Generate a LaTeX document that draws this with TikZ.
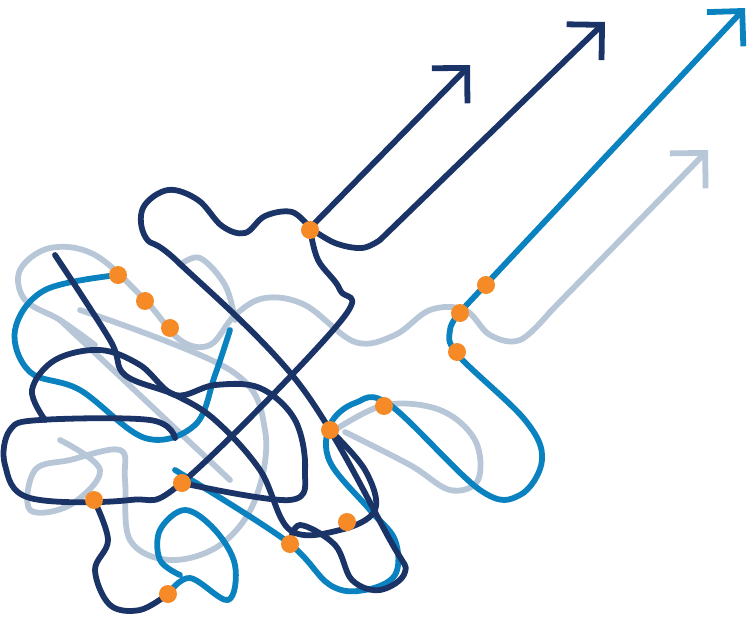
\documentclass[tikz,border=0pt]{standalone}
\usetikzlibrary{arrows.meta}
\definecolor{navy}{HTML}{1B3467}
\definecolor{sky}{HTML}{0A82C0}
\definecolor{mist}{HTML}{B8C7D8}
\definecolor{spot}{HTML}{F58A26}
\begin{document}
\begin{tikzpicture}[x=0.02cm,y=-0.02cm,
  strand/.style={line width=3.3pt,line cap=round,line join=round},
  tip/.style={-{Straight Barb[length=5mm,width=10mm,line width=3.3pt]}},
  dot/.style={circle,fill=spot,inner sep=0pt,minimum size=3.6mm}]
\useasboundingbox (0,0) rectangle (754,622);
% light strand
\draw[strand,mist] plot[smooth,tension=0.6] coordinates {(60,320)(230,480)};
\draw[strand,mist] plot[smooth,tension=0.6] coordinates {(95,345)(60,320)(25,300)(20,270)(50,248)(95,255)(145,300)(180,340)(210,345)(235,315)(265,298)(305,305)(355,342)(395,335)(430,310)(465,310)(490,335)(520,340)(550,312)};
\draw[strand,mist,tip] (550,312) -- (708,150);
\draw[strand,mist] plot[smooth,tension=0.6] coordinates {(80,310)(230,370)(265,430)(255,500)(220,545)(170,560)(130,540)(125,480)(120,450)(70,460)(35,470)(30,510)(70,505)(100,470)(60,440)};
\draw[strand,mist] plot[smooth,tension=0.6] coordinates {(180,265)(200,258)(225,285)(235,320)};
\draw[strand,mist] plot[smooth,tension=0.6] coordinates {(335,430)(385,405)(440,410)(475,440)(478,480)(450,490)(410,465)(345,432)};
% blue strand
\draw[strand,sky,tip] (460,312) -- (745,8);
\draw[strand,sky] plot[smooth,tension=0.6] coordinates {(460,312)(450,330)(458,355)(525,420)(542,460)(520,495)(480,490)(390,405)(355,403)(330,425)(330,462)(370,510)(395,540)(395,575)(365,590)(330,585)(285,540)(175,470)};
\draw[strand,sky] plot[smooth,tension=0.6] coordinates {(118,275)(45,290)(15,330)(30,372)(80,390)(145,438)(195,425)(215,375)(230,330)};
\draw[strand,sky] plot[smooth,tension=0.6] coordinates {(168,594)(190,578)(228,600)(235,565)(215,530)(185,510)(160,530)(160,560)(180,575)};
% navy strands
\draw[strand,navy,tip] (310,228) -- (470,65);
\draw[strand,navy,tip] plot[smooth,tension=0.6] coordinates {(310,228)(335,243)(362,248)(380,240)} -- (605,22);
\draw[strand,navy] plot[smooth,tension=0.6] coordinates {(310,228)(292,212)(265,216)(245,233)(222,226)(198,200)(168,190)(143,208)(146,238)(178,262)(300,385)(390,540)(405,572)(380,590)(352,580)(335,545)(300,525)(290,544)};
\draw[strand,navy] plot[smooth,tension=0.6] coordinates {(310,228)(318,260)(340,290)(340,322)(185,480)(130,500)(30,498)(5,465)(10,430)(40,420)(150,420)(175,438)};
\draw[strand,navy] plot[smooth,tension=0.6] coordinates {(55,255)(110,340)(125,375)(175,395)(215,420)(260,470)(290,530)(340,530)(375,510)(365,470)(330,430)};
\draw[strand,navy] plot[smooth,tension=0.6] coordinates {(45,420)(32,390)(55,360)(100,350)(140,365)(175,395)(215,385)(260,388)(295,420)(305,470)(290,500)(182,483)};
\draw[strand,navy] plot[smooth,tension=0.6] coordinates {(94,500)(108,540)(95,570)(110,605)(140,610)(168,594)};
% crossings
\foreach \x/\y in {118/275,145/301,170/328,310/230,486/285,460/313,457/352,384/406,330/430,182/483,94/500,347/522,290/544,168/594}
  \node[dot] at (\x,\y) {};
\end{tikzpicture}
\end{document}
